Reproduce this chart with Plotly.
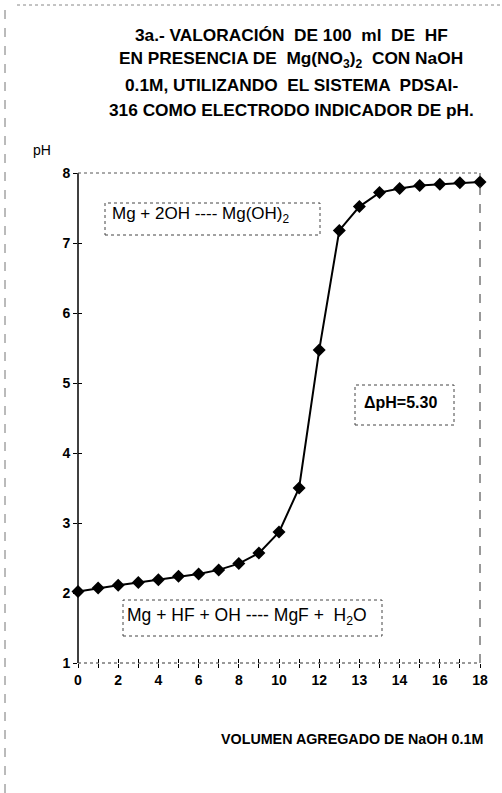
import plotly.graph_objects as go

# Titration data: volume of 0.1 M NaOH added (mL) and measured pH
volumes = [0, 1, 2, 3, 4, 5, 6, 7, 8, 9, 10, 11, 12, 12.5, 13, 13.5, 14, 15, 16, 17, 18]
ph = [2.02, 2.07, 2.11, 2.15, 2.19, 2.24, 2.27, 2.33, 2.42, 2.57, 2.87, 3.50,
      5.47, 7.18, 7.52, 7.72, 7.78, 7.82, 7.84, 7.86, 7.87]
ph_ticks = [1, 2, 3, 4, 5, 6, 7, 8]

# the volume axis is a category axis: one equal step per reading
pos = list(range(len(volumes)))
label_pos = pos[::2]
label_text = [f"<b>{volumes[i]:g}</b>" for i in label_pos]
ph_text = [f"<b>{v}</b>" for v in ph_ticks]

W, H = 502, 793
L, R, T, B = 78, 22, 173, 130
PW, PH_ = W - L - R, H - T - B


def px(x):
    return (x - L) / PW


def py(y):
    return (H - B - y) / PH_


FONT = "Liberation Sans, Arial, sans-serif"
TICKFONT = dict(size=14, family=FONT, color="black")

fig = go.Figure()
fig.add_trace(go.Scatter(
    x=pos, y=ph, mode="lines+markers",
    line=dict(color="black", width=2),
    marker=dict(symbol="diamond", size=10, color="black"),
    showlegend=False, cliponaxis=False,
    customdata=volumes, hovertemplate="%{customdata} mL: pH %{y}<extra></extra>",
))
# carrier for the overlay axes that draw the inner half of each tick
fig.add_trace(go.Scatter(x=pos, y=ph, xaxis="x2", yaxis="y2",
                         mode="none", showlegend=False, hoverinfo="skip"))

n = pos[-1]
common = dict(showgrid=False, zeroline=False, showline=False)
fig.update_layout(
    width=W, height=H,
    margin=dict(l=L, r=R, t=T, b=B),
    paper_bgcolor="white", plot_bgcolor="white",
    font=dict(family=FONT, color="black"),
    xaxis=dict(range=[0, n], tickmode="array", tickvals=label_pos,
               ticktext=label_text, ticks="outside", ticklen=4,
               tickcolor="black", tickfont=TICKFONT,
               minor=dict(tickmode="linear", tick0=0, dtick=1,
                          ticks="outside", ticklen=4, tickcolor="black"),
               **common),
    xaxis2=dict(overlaying="x", matches="x", anchor="y2", range=[0, n],
                tickmode="linear", tick0=0, dtick=1, ticks="inside",
                ticklen=4, tickcolor="black", showticklabels=False, **common),
    yaxis=dict(range=[1, 8], tickmode="array", tickvals=ph_ticks,
               ticktext=ph_text, ticks="outside", ticklen=4,
               tickcolor="black", tickfont=TICKFONT, **common),
    yaxis2=dict(overlaying="y", matches="y", anchor="x2", range=[1, 8],
                tickmode="array", tickvals=ph_ticks, ticks="inside",
                ticklen=4, tickcolor="black", showticklabels=False, **common),
)

shapes = [
    # plot frame: solid y axis, dotted x axis and top, dashed right side
    dict(type="line", xref="paper", yref="paper", x0=0, x1=0, y0=0, y1=1,
         line=dict(color="black", width=1.5)),
    dict(type="line", xref="paper", yref="paper", x0=0, x1=1, y0=0, y1=0,
         line=dict(color="#333", width=1, dash="dot")),
    dict(type="line", xref="paper", yref="paper", x0=0, x1=1, y0=1, y1=1,
         line=dict(color="#555", width=1, dash="dot")),
    dict(type="line", xref="paper", yref="paper", x0=1, x1=1, y0=0, y1=1,
         line=dict(color="#333", width=1, dash="dash")),
    # page border
    dict(type="line", xref="paper", yref="paper", x0=px(5), x1=px(5),
         y0=py(793), y1=py(10), line=dict(color="#777", width=1, dash="dash")),
    dict(type="line", xref="paper", yref="paper", x0=px(17), x1=px(502),
         y0=py(5), y1=py(5), line=dict(color="#888", width=1, dash="dot")),
    # reaction and delta-pH boxes
    dict(type="rect", xref="paper", yref="paper", x0=px(105), x1=px(320),
         y0=py(235), y1=py(203), line=dict(color="#444", width=1, dash="dot")),
    dict(type="rect", xref="paper", yref="paper", x0=px(355), x1=px(454),
         y0=py(425), y1=py(385), line=dict(color="#444", width=1, dash="dot")),
    dict(type="rect", xref="paper", yref="paper", x0=px(123), x1=px(382),
         y0=py(636), y1=py(600), line=dict(color="#444", width=1, dash="dot")),
]
fig.update_layout(shapes=shapes)

title_lines = [
    "3a.- VALORACIÓN  DE 100  ml  DE  HF",
    "EN PRESENCIA DE  Mg(NO<sub>3</sub>)<sub>2</sub>  CON NaOH",
    "0.1M, UTILIZANDO  EL SISTEMA  PDSAI-",
    "316 COMO ELECTRODO INDICADOR DE pH.",
]


def note(text, x, y, size):
    return dict(text=text, x=px(x), y=py(y), xref="paper", yref="paper",
                xanchor="center", yanchor="middle", showarrow=False,
                font=dict(size=size, family=FONT, color="black"))


annotations = [note(f"<b>{t}</b>", 291, 35 + 25 * i, 17.3)
               for i, t in enumerate(title_lines)]
annotations += [
    note("pH", 42, 150, 14),
    note("Mg + 2OH ---- Mg(OH)<sub>2</sub>", 200, 215, 17),
    note("<b>ΔpH=5.30</b>", 400, 402, 16),
    note("Mg + HF + OH ---- MgF +  H<sub>2</sub>O", 247, 616, 17.5),
    note("<b>VOLUMEN AGREGADO DE NaOH 0.1M</b>", 352, 739, 14.3),
]
fig.update_layout(annotations=annotations)

fig.write_html("out.html")
